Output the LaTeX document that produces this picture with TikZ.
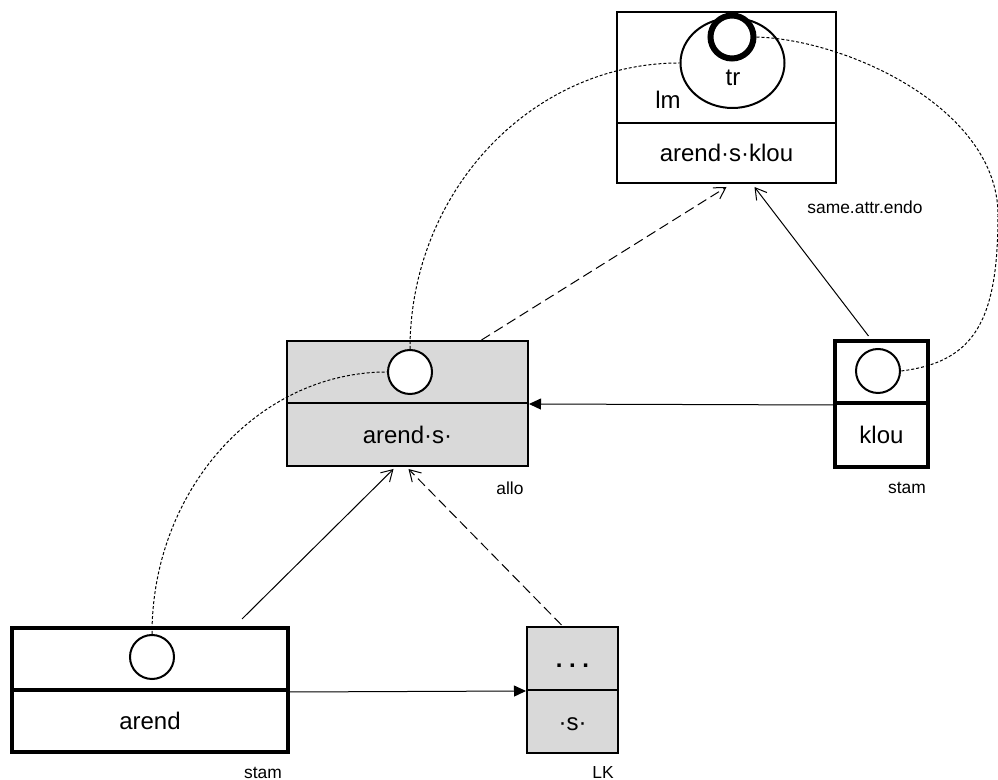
\documentclass[tikz,border=0pt]{standalone}
\usepackage{fontspec}
\setmainfont{Liberation Sans}
\usepackage{xcolor}
\definecolor{Grey1}{RGB}{217,217,217}
\usepackage{tikz}
\usetikzlibrary{shapes}
\usetikzlibrary{arrows.meta}
\tikzstyle{Cell}=[rectangle,draw=black,line width=1pt,inner sep=0pt,
font=\fontsize{12}{14}\selectfont,text height=8.6pt,text depth=0pt]
\tikzstyle{CellBold}=[Cell,line width=2pt]
\tikzstyle{CellGrey}=[Cell,fill=Grey1]
\tikzstyle{Slot}=[circle,draw=black,line width=1pt,fill=white,
minimum size=22pt,inner sep=0pt]
\tikzstyle{Edge}=[draw=black,line width=.5pt]
\tikzstyle{Link}=[draw=black,line width=.5pt,dash pattern=on 1.5pt off 1pt]
\tikzstyle{NodeST}=[font=\fontsize{8.7}{10}\selectfont]
\tikzstyle{NodeTx}=[font=\fontsize{12}{14}\selectfont]

\begin{document}
\begin{tikzpicture}[x=.5pt,y=-.5pt]
        \useasboundingbox(0,0)rectangle(998,780);
        % boxes
        \node[Cell,minimum width=109.5pt,minimum height=55.5pt](T1)at(726.5,67.5){};
        \node[Cell,minimum width=109.5pt,minimum height=30pt](T2)at(726.5,153){arend·s·klou};
        \node[CellGrey,minimum width=120.5pt,minimum height=31pt](M1)at(407.5,372){};
        \node[CellGrey,minimum width=120.5pt,minimum height=31.5pt](M2)at(407.5,434.5){arend·s·};
        \node[CellBold,minimum width=46.5pt,minimum height=31pt](K1)at(881.5,372){};
        \node[CellBold,minimum width=46.5pt,minimum height=32pt](K2)at(881.5,435){klou};
        \node[CellBold,minimum width=138pt,minimum height=31pt](A1)at(150,659){};
        \node[CellBold,minimum width=138pt,minimum height=31pt](A2)at(150,721){arend};
        \node[CellGrey,minimum width=45.5pt,minimum height=31.5pt](L1)at(572.5,658.5){\textbf{.\ .\ .}};
        \node[CellGrey,minimum width=45.5pt,minimum height=31.5pt](L2)at(572.5,721.5){·s·};
        % slots
        \node[ellipse,draw=black,line width=1pt,minimum width=52pt,minimum height=45pt,
            inner sep=0pt](lm)at(732.5,63){};
        \node[Slot,line width=3pt,minimum size=21.5pt](tr)at(732,37){};
        \node[Slot](Mc)at(410,372){};
        \node[Slot,minimum size=22pt](Kc)at(878,371){};
        \node[Slot](Ac)at(152,657){};
        \node[NodeTx](trL)at(733,78){tr};
        \node[NodeTx](lmL)at(668,100){lm};
        % labels
        \node[NodeST](se)at(865,207){same.attr.endo};
        \node[NodeST](al)at(510,488){allo};
        \node[NodeST](s1)at(907,488){stam};
        \node[NodeST](s2)at(263,773){stam};
        \node[NodeST](lk)at(603,773){LK};
        % arrows
        \draw[Edge,-{Straight Barb[length=5.5pt,width=6.5pt]}]
            ([xshift=46pt,yshift=3.5pt]A1.north)--([xshift=-7pt,yshift=-1pt]M2.south);
        \draw[Edge,dash pattern=on 5pt off 2.5pt,-{Straight Barb[length=5.5pt,width=6.5pt]}]
            ([xshift=-5.5pt,yshift=.5pt]L1.north)--([xshift=.5pt,yshift=-1pt]M2.south);
        \draw[Edge,dash pattern=on 5pt off 2.5pt,-{Straight Barb[length=5.5pt,width=6.5pt]}]
            ([xshift=37pt]M1.north)--([yshift=-1.5pt]T2.south);
        \draw[Edge,-{Straight Barb[length=5.5pt,width=6.5pt]}]
            ([xshift=-6.5pt,yshift=1.5pt]K1.north)--([xshift=14pt,yshift=-1.5pt]T2.south);
        \draw[Edge,-{Triangle[length=6pt,width=5.5pt]}](K1.south west)--(M1.south east);
        \draw[Edge,-{Triangle[length=6pt,width=5.5pt]}](A1.south east)--(L1.south west);
        % links
        \draw[Link](Ac.north)..controls(152,490)and(258,372)..(Mc.west);
        \draw[Link](Mc.north)..controls(410,192)and(531,63)..(lm.west);
        \draw[Link](tr.east)..controls(850,40)and(998,110)..(998,215)
            ..controls(998,320)and(975,362)..(Kc.east);
    \end{tikzpicture}
\end{document}
